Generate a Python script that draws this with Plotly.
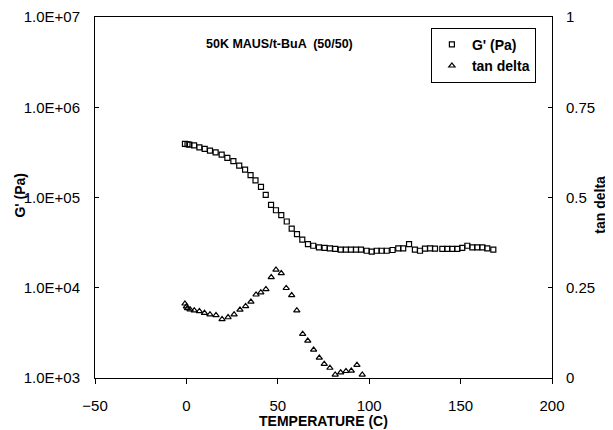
import plotly.graph_objects as go

# ---- data ----
g_temp = [-0.8, 0.6, 1.6, 4.2, 7.1, 10.0, 12.9, 16.0, 19.3, 22.4, 25.7, 28.9, 32.1, 35.1, 37.8,
          40.8, 43.4, 46.3, 49.0, 51.9, 54.9, 57.6, 60.5, 63.4, 66.5, 69.4, 72.5, 75.6, 78.5, 81.4,
          84.4, 87.3, 90.0, 92.8, 95.5, 98.6, 101.4, 104.1, 106.8, 109.6, 112.8, 115.9, 118.6, 121.8,
          125.0, 127.8, 130.5, 133.3, 136.0, 140.0, 142.7, 145.4, 148.2, 150.9, 153.7, 156.4, 159.1,
          161.9, 164.6, 167.9]
g_prime = [3.92e5, 3.89e5, 3.86e5, 3.79e5, 3.60e5, 3.45e5, 3.31e5, 3.17e5, 2.99e5, 2.75e5, 2.53e5,
           2.26e5, 2.04e5, 1.77e5, 1.55e5, 1.31e5, 1.07e5, 8.27e4, 7.22e4, 6.37e4, 5.42e4, 4.53e4,
           3.93e4, 3.41e4, 3.05e4, 2.92e4, 2.80e4, 2.76e4, 2.73e4, 2.69e4, 2.64e4, 2.64e4, 2.64e4,
           2.64e4, 2.64e4, 2.57e4, 2.51e4, 2.57e4, 2.57e4, 2.57e4, 2.62e4, 2.73e4, 2.73e4, 3.05e4,
           2.64e4, 2.57e4, 2.71e4, 2.73e4, 2.71e4, 2.69e4, 2.69e4, 2.69e4, 2.69e4, 2.76e4, 2.92e4,
           2.80e4, 2.80e4, 2.80e4, 2.73e4, 2.64e4]

td_temp = [-0.8, 0.0, 0.6, 2.0, 4.3, 7.1, 9.9, 12.9, 16.2, 19.5, 22.8, 26.1, 29.3, 32.4, 35.3, 38.1,
           40.7, 43.5, 46.4, 49.0, 51.9, 54.6, 57.6, 60.4, 63.6, 66.4, 69.6, 72.7, 75.4, 78.5, 81.4,
           84.4, 87.3, 90.2, 93.3, 96.2]
tan_delta = [0.206, 0.198, 0.193, 0.190, 0.187, 0.185, 0.180, 0.176, 0.174, 0.163, 0.168, 0.176,
             0.189, 0.199, 0.211, 0.231, 0.237, 0.246, 0.279, 0.300, 0.290, 0.249, 0.229, 0.187,
             0.122, 0.103, 0.078, 0.056, 0.039, 0.028, 0.009, 0.015, 0.019, 0.020, 0.036, 0.009]

g_tickvals = [1e3, 1e4, 1e5, 1e6, 1e7]
g_ticktext = ["1.0E+03", "1.0E+04", "1.0E+05", "1.0E+06", "1.0E+07"]
td_tickvals = [0, 0.25, 0.5, 0.75, 1]
td_ticktext = ["0", "0.25", "0.5", "0.75", "1"]
x_tickvals = [-50, 0, 50, 100, 150, 200]

FONT = "Liberation Sans, Arial, sans-serif"

fig = go.Figure()
fig.add_trace(go.Scatter(
    x=g_temp, y=g_prime, mode="markers", name="G' (Pa)",
    marker=dict(symbol="square-open", size=5, color="black", line=dict(width=1.2, color="black")),
    yaxis="y"))
fig.add_trace(go.Scatter(
    x=td_temp, y=tan_delta, mode="markers", name="tan delta",
    marker=dict(symbol="triangle-up-open", size=5.5, color="black", line=dict(width=1.2, color="black")),
    yaxis="y2"))

fig.update_layout(
    width=613, height=430,
    margin=dict(l=87, r=69, t=9, b=60, autoexpand=False),
    paper_bgcolor="white", plot_bgcolor="white",
    font=dict(family=FONT, size=15, color="black"),
    showlegend=True,
    legend=dict(x=0.735, y=0.97, xanchor="left", yanchor="top",
                bordercolor="black", borderwidth=1, bgcolor="white",
                font=dict(family=FONT, size=14, color="black", weight="bold"),
                tracegroupgap=0, itemsizing="trace"),
    xaxis=dict(range=[-50, 200], tickvals=x_tickvals, showgrid=False, zeroline=False,
               showline=True, linecolor="black", linewidth=1, mirror=True,
               ticks="outside", ticklen=5, tickcolor="black", ticklabeloverflow="allow",
               ticklabelstandoff=9, tickfont=dict(size=15)),
    yaxis=dict(type="log", range=[3, 7], tickvals=g_tickvals, ticktext=g_ticktext,
               showgrid=False, zeroline=False, showline=True, linecolor="black", linewidth=1,
               ticks="inside", ticklen=4, tickcolor="black", ticklabelstandoff=11,
               ticklabeloverflow="allow", tickfont=dict(size=15)),
    yaxis2=dict(range=[0, 1], tickvals=td_tickvals, ticktext=td_ticktext, overlaying="y",
                side="right", showgrid=False, zeroline=False, showline=True, linecolor="black",
                linewidth=1, ticks="inside", ticklen=4, tickcolor="black", ticklabelstandoff=10,
                ticklabeloverflow="allow", tickfont=dict(size=15)),
    annotations=[
        dict(text="<b>50K MAUS/t-BuA  (50/50)</b>", xref="paper", yref="paper", x=0.403, y=0.925,
             xanchor="center", yanchor="middle", showarrow=False, font=dict(size=12.5)),
        dict(text="<b>TEMPERATURE (C)</b>", xref="paper", yref="paper", x=0.499, y=-0.119,
             xanchor="center", yanchor="middle", showarrow=False, font=dict(size=14)),
        dict(text="<b>G' (Pa)</b>", xref="paper", yref="paper", x=-0.165, y=0.507,
             xanchor="center", yanchor="middle", showarrow=False, textangle=-90,
             font=dict(size=14)),
        dict(text="<b>tan delta</b>", xref="paper", yref="paper", x=1.105, y=0.48,
             xanchor="center", yanchor="middle", showarrow=False, textangle=-90,
             font=dict(size=14)),
    ],
)

fig.write_html("out.html")
